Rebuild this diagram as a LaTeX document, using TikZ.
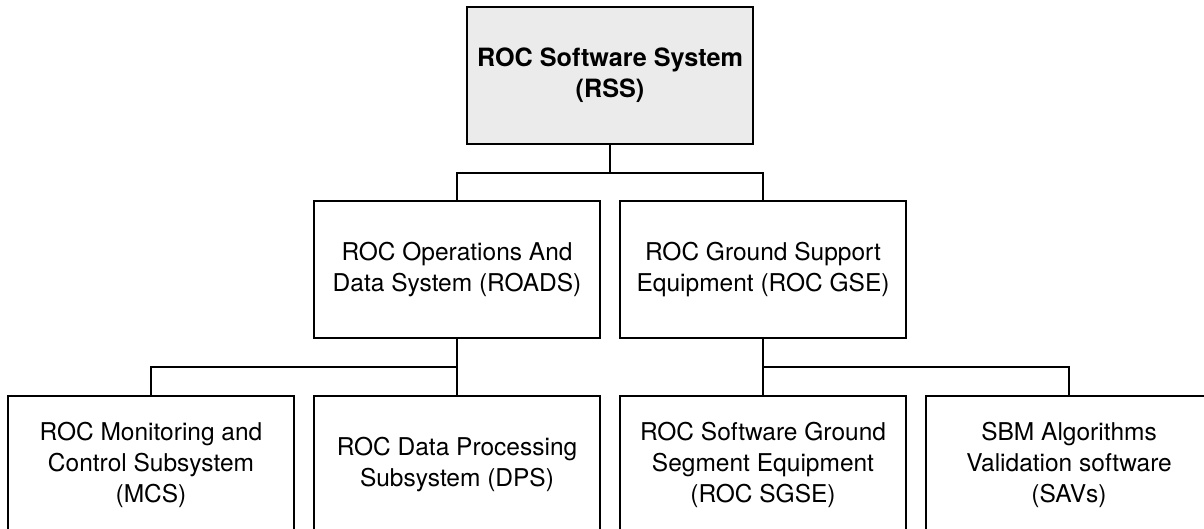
\documentclass[tikz,border=0pt]{standalone}
\usepackage{fontspec}
\setmainfont{TeX Gyre Heros}
\usetikzlibrary{positioning,calc}
\definecolor{rootgray}{HTML}{EBEBEB}
\tikzset{
  unitbox/.style={draw=black,line width=1.4pt,minimum width=286pt,minimum height=137pt,
    align=center,font=\fontsize{24.5}{31}\selectfont},
  rootbox/.style={unitbox,fill=rootgray,font=\fontsize{25.2}{31}\selectfont\bfseries},
  wire/.style={line width=1.2pt}
}
\begin{document}
\begin{tikzpicture}[x=1pt,y=-1pt]
\useasboundingbox (0,0) rectangle (1204,529);
\clip (0,0) rectangle (1204,529);
% top level
\node[rootbox] (rss) at (610,75.5) {ROC Software System\\(RSS)};
% second level
\node[unitbox] (roads) at (457,269.5) {ROC Operations And\\Data System (ROADS)};
\node[unitbox] (gse) at (763,269.5) {ROC Ground Support\\Equipment (ROC GSE)};
% third level
\node[unitbox] (mcs) at (151,464.5) {ROC Monitoring and\\Control Subsystem\\(MCS)};
\node[unitbox] (dps) at (457,464.5) {ROC Data Processing\\Subsystem (DPS)};
\node[unitbox] (sgse) at (763,464.5) {ROC Software Ground\\Segment Equipment\\(ROC SGSE)};
\node[unitbox] (savs) at (1069,464.5) {SBM Algorithms\\Validation software\\(SAVs)};
% junctions
\coordinate (top) at (610,173);
\coordinate (left) at (457,367);
\coordinate (right) at (763,367);
% connectors
\draw[wire] (rss.south) -- (top);
\draw[wire] (roads.north) |- (top) -| (gse.north);
\draw[wire] (roads.south) -- (dps.north);
\draw[wire] (mcs.north) |- (left);
\draw[wire] (gse.south) -- (sgse.north);
\draw[wire] (savs.north) |- (right);
\end{tikzpicture}
\end{document}
